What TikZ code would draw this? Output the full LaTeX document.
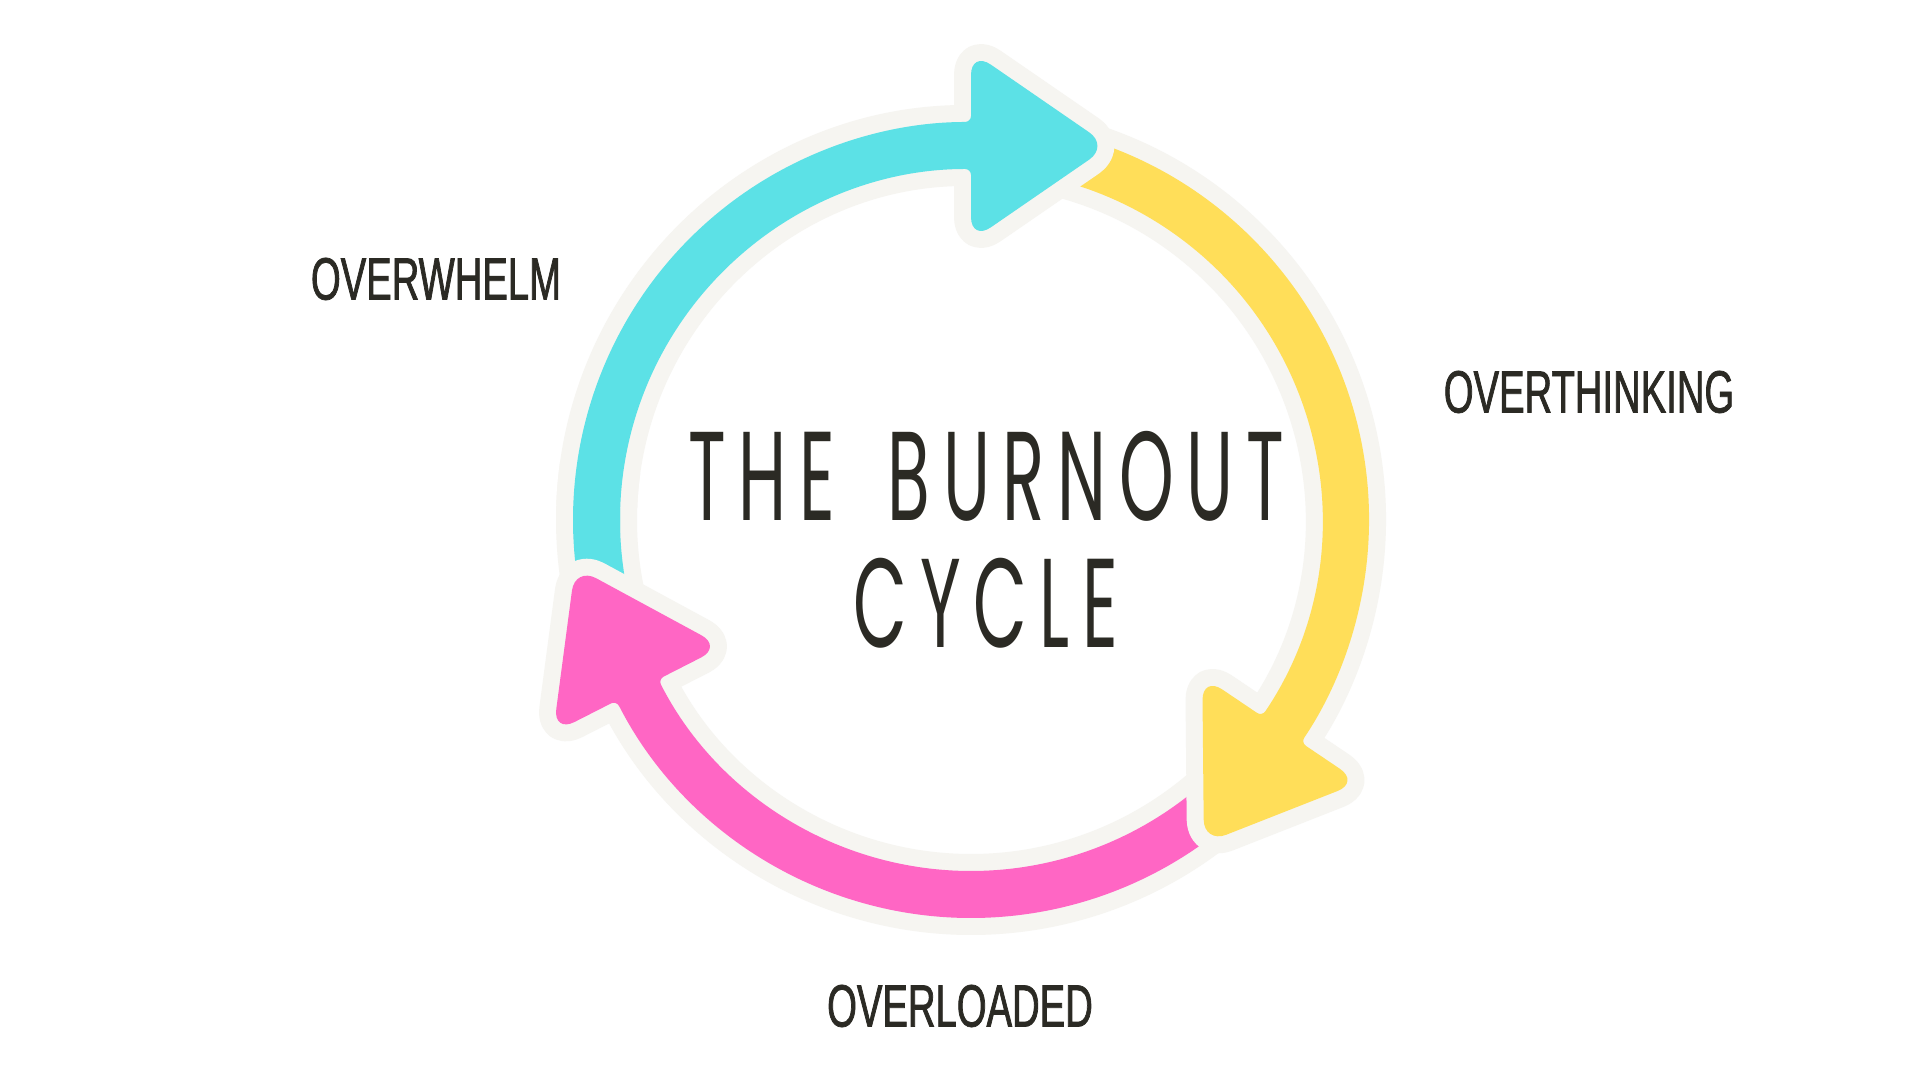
\documentclass[tikz,border=0pt]{standalone}
\usepackage{fontspec}
\usepackage{tikz}
\usetikzlibrary{calc}
\definecolor{burnCyan}{HTML}{5CE1E6}
\definecolor{burnYellow}{HTML}{FFDE59}
\definecolor{burnPink}{HTML}{FF66C4}
\definecolor{burnEdge}{HTML}{F6F5F1}
\definecolor{burnInk}{HTML}{2B2A24}
\newfontfamily\labelfont[FakeStretch=0.64,FakeBold=1.2]{Liberation Sans}
\newfontfamily\titlefont[FakeStretch=0.55,LetterSpace=10,WordSpace=1.7]{Poppins}

\begin{document}
\begin{tikzpicture}[
  edge/.style={draw=burnEdge, line width=3.4mm, line join=round},
  band/.style={preaction={edge}},
  word/.style={font=\labelfont\fontsize{17}{20}\selectfont, text=burnInk},
  headline/.style={font=\titlefont\fontsize{36}{40}\selectfont, text=burnInk},
]
\useasboundingbox[fill=white] (0,0) rectangle (19.2,10.8);
\coordinate (ctr) at (9.71,5.60);

% Cyan tail (goes under the pink head)
\draw[edge] ($(ctr)+(172:3.98)$) arc[start angle=172, end angle=197, radius=3.98]
  -- ($(ctr)+(197:3.51)$) arc[start angle=197, end angle=172, radius=3.51];
\fill[burnCyan] ($(ctr)+(172:3.98)$) arc[start angle=172, end angle=197, radius=3.98]
  -- ($(ctr)+(197:3.51)$) arc[start angle=197, end angle=172, radius=3.51] -- cycle;

% Pink arrow (bottom)
\path[band, fill=burnPink] ($(ctr)+(-41:3.98)$) [rounded corners=0.6mm] arc[start angle=-41, end angle=-153, radius=3.98]
  [rounded corners=2.4mm] -- ($(ctr)+(-153:4.69)$) -- ($(ctr)+(-153:3.74)+(117:1.38)$) -- ($(ctr)+(-153:2.79)$)
  [rounded corners=0.6mm] -- ($(ctr)+(-153:3.51)$)
  [sharp corners] arc[start angle=-153, end angle=-41, radius=3.51] -- cycle;

% Yellow arrow (right)
\path[band, fill=burnYellow] ($(ctr)+(83:3.98)$) [rounded corners=0.6mm] arc[start angle=83, end angle=-34, radius=3.98]
  [rounded corners=2.4mm] -- ($(ctr)+(-34:4.69)$) -- ($(ctr)+(-34:3.74)+(-124:1.38)$) -- ($(ctr)+(-34:2.79)$)
  [rounded corners=0.6mm] -- ($(ctr)+(-34:3.51)$)
  [sharp corners] arc[start angle=-34, end angle=83, radius=3.51] -- cycle;

% Cyan arrow (left and top)
\draw[edge] ($(ctr)+(178:3.98)$) [rounded corners=0.6mm] arc[start angle=178, end angle=90, radius=3.98]
  [rounded corners=2.4mm] -- ($(ctr)+(90:4.69)$) -- ($(ctr)+(90:3.74)+(0:1.38)$) -- ($(ctr)+(90:2.79)$)
  [rounded corners=0.6mm] -- ($(ctr)+(90:3.51)$)
  [sharp corners] arc[start angle=90, end angle=178, radius=3.51];
\fill[burnCyan] ($(ctr)+(182:3.98)$) [rounded corners=0.6mm] arc[start angle=182, end angle=90, radius=3.98]
  [rounded corners=2.4mm] -- ($(ctr)+(90:4.69)$) -- ($(ctr)+(90:3.74)+(0:1.38)$) -- ($(ctr)+(90:2.79)$)
  [rounded corners=0.6mm] -- ($(ctr)+(90:3.51)$)
  [sharp corners] arc[start angle=90, end angle=182, radius=3.51] -- cycle;

% Title
\node[headline] (title1) at (9.86,6.04) {THE BURNOUT};
\node[headline] (title2) at (9.86,4.77) {CYCLE};

% Labels
\node[word] (overwhelm) at (4.36,8.01) {OVERWHELM};
\node[word] (overthinking) at (15.89,6.88) {OVERTHINKING};
\node[word] (overloaded) at (9.60,0.74) {OVERLOADED};

\end{tikzpicture}
\end{document}
